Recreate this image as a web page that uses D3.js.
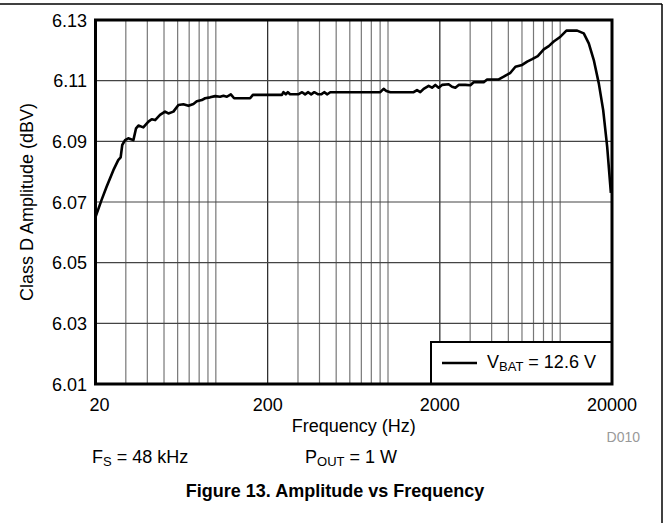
<!DOCTYPE html>
<html>
<head>
<meta charset="utf-8">
<script src="https://cdn.jsdelivr.net/npm/d3@7"></script>
<style>
  html, body { margin: 0; padding: 0; background: #fff; }
  svg { display: block; font-family: "Liberation Sans", Arial, sans-serif; }
</style>
</head>
<body>
<svg id="chart" width="669" height="523"></svg>
<script>
// ---- data ----
const freqs = [20, 21.7, 23.2, 25.4, 27.1, 28.0, 28.6, 29.7, 31.0, 33.2, 34.4, 35.5, 37.9, 40.6, 42.4, 44.4,
  47.4, 50.7, 53.0, 56.7, 60.6, 64.8, 69.3, 74.1, 77.5, 82.9, 86.6, 92.6, 99.1, 105.9, 110.7, 115.9,
  122.2, 127.7, 158.2, 164.1, 206.8, 242, 247, 255, 262, 270, 301, 317, 330, 344, 358, 373, 393, 409,
  426, 444, 462, 902, 943, 978, 1031, 1409, 1474, 1540, 1611, 1722, 1802, 1883, 1968, 2060, 2250,
  2355, 2461, 2573, 2814, 3008, 3144, 3596, 3763, 4396, 4700, 5141, 5497, 6013, 6430, 6874, 7409,
  8028, 8584, 9176, 10036, 10873, 12555, 13711, 14661, 15676, 16762, 17776, 18755, 19700];
const amplitude = [6.065, 6.0707, 6.075, 6.0805, 6.0838, 6.0847, 6.0888, 6.0904, 6.091, 6.0904, 6.0943,
  6.0952, 6.0946, 6.0965, 6.0973, 6.097, 6.0987, 6.0998, 6.0992, 6.0998, 6.102, 6.1022, 6.1017, 6.1023,
  6.1032, 6.1036, 6.1042, 6.1045, 6.1049, 6.1047, 6.105, 6.1047, 6.1055, 6.1042, 6.1042, 6.1053, 6.1053,
  6.1053, 6.1062, 6.1055, 6.1062, 6.1055, 6.1055, 6.1062, 6.1055, 6.1062, 6.1055, 6.1062, 6.1055, 6.1055,
  6.1062, 6.1055, 6.1062, 6.1062, 6.1073, 6.1066, 6.1062, 6.1062, 6.1069, 6.1062, 6.1073, 6.1083, 6.1077,
  6.1086, 6.1077, 6.1086, 6.1088, 6.108, 6.1077, 6.1086, 6.1086, 6.1085, 6.1095, 6.1095, 6.1104, 6.1104,
  6.1113, 6.1126, 6.1146, 6.1152, 6.1163, 6.1171, 6.1181, 6.1203, 6.1214, 6.1229, 6.1245, 6.1265, 6.1265,
  6.1256, 6.1223, 6.1168, 6.1091, 6.1003, 6.0882, 6.073];
const yTicks = [6.01, 6.03, 6.05, 6.07, 6.09, 6.11, 6.13];
const xTickLabels = [20, 200, 2000, 20000];
const xGridFreqs = [30, 40, 50, 60, 70, 80, 90, 100, 200, 300, 400, 500, 600, 700, 800, 900,
  1000, 2000, 3000, 4000, 5000, 6000, 7000, 8000, 9000, 10000];
const xMajor = [200, 2000];
const seriesLabel = {main: "V", sub: "BAT", rest: " = 12.6 V"};
const xTitle = "Frequency (Hz)";
const yTitle = "Class D Amplitude (dBV)";
const caption = "Figure 13. Amplitude vs Frequency";

// ---- layout ----
const svg = d3.select("#chart");
const L = 95.5, R = 612, T = 20, B = 384;
const x = d3.scaleLog().domain([20, 20000]).range([L, R]);
const y = d3.scaleLinear().domain([6.01, 6.13]).range([B, T]);

// outer figure border (top and right)
svg.append("line").attr("x1", 0).attr("x2", 662).attr("y1", 4).attr("y2", 4)
  .attr("stroke", "#000").attr("stroke-width", 1.5);
svg.append("line").attr("x1", 662).attr("x2", 662).attr("y1", 4).attr("y2", 523)
  .attr("stroke", "#000").attr("stroke-width", 1.5);

// grid
const g = svg.append("g");
g.selectAll("line.vg").data(xGridFreqs).join("line")
  .attr("x1", d => x(d)).attr("x2", d => x(d)).attr("y1", T).attr("y2", B)
  .attr("stroke", d => xMajor.includes(d) ? "#222" : "#777").attr("stroke-width", 1.2);
g.selectAll("line.hg").data(yTicks.slice(1, -1)).join("line")
  .attr("x1", L).attr("x2", R).attr("y1", d => y(d)).attr("y2", d => y(d))
  .attr("stroke", "#444").attr("stroke-width", 1.2);

// series line
const line = d3.line().x((d, i) => x(freqs[i])).y(d => y(d));
svg.append("path").attr("d", line(amplitude)).attr("fill", "none")
  .attr("stroke", "#000").attr("stroke-width", 2.6).attr("stroke-linejoin", "round");

// legend
const lg = svg.append("g");
lg.append("rect").attr("x", 431).attr("y", 342).attr("width", R - 431).attr("height", B - 342)
  .attr("fill", "#fff").attr("stroke", "#000").attr("stroke-width", 2);
lg.append("line").attr("x1", 442).attr("x2", 477).attr("y1", 363).attr("y2", 363)
  .attr("stroke", "#000").attr("stroke-width", 2.6);
const lt = lg.append("text").attr("x", 487).attr("y", 368).attr("font-size", 18).attr("fill", "#000");
lt.append("tspan").text(seriesLabel.main);
lt.append("tspan").attr("font-size", 13).attr("dy", 3).text(seriesLabel.sub);
lt.append("tspan").attr("dy", -3).text(seriesLabel.rest);

// plot frame
svg.append("rect").attr("x", L).attr("y", T).attr("width", R - L).attr("height", B - T)
  .attr("fill", "none").attr("stroke", "#000").attr("stroke-width", 3);

// y tick labels
svg.selectAll("text.yt").data(yTicks).join("text")
  .attr("x", 87).attr("y", d => y(d) + 6.5).attr("text-anchor", "end")
  .attr("font-size", 18).attr("fill", "#000").text(d => d.toFixed(2));

// x tick labels
svg.selectAll("text.xt").data(xTickLabels).join("text")
  .attr("x", (d, i) => x(d) + (i === 0 ? 4 : 0)).attr("y", 411).attr("text-anchor", "middle")
  .attr("font-size", 18).attr("fill", "#000").text(d => d);

// axis titles
svg.append("text").attr("x", (L + R) / 2).attr("y", 432).attr("text-anchor", "middle")
  .attr("font-size", 18).attr("fill", "#000").text(xTitle);
svg.append("text").attr("transform", `translate(33,${(T + B) / 2}) rotate(-90)`)
  .attr("text-anchor", "middle").attr("font-size", 18).attr("fill", "#000").text(yTitle);

// figure id
svg.append("text").attr("x", 640).attr("y", 442).attr("text-anchor", "end")
  .attr("font-size", 14).attr("fill", "#999").text("D010");

// conditions
const c1 = svg.append("text").attr("x", 92).attr("y", 463).attr("font-size", 18).attr("fill", "#000");
c1.append("tspan").text("F");
c1.append("tspan").attr("font-size", 13).attr("dy", 3).text("S");
c1.append("tspan").attr("dy", -3).text(" = 48 kHz");
const c2 = svg.append("text").attr("x", 305).attr("y", 463).attr("font-size", 18).attr("fill", "#000");
c2.append("tspan").text("P");
c2.append("tspan").attr("font-size", 13).attr("dy", 3).text("OUT");
c2.append("tspan").attr("dy", -3).text(" = 1 W");

// caption
svg.append("text").attr("x", 335).attr("y", 497).attr("text-anchor", "middle")
  .attr("font-size", 18).attr("font-weight", "bold").attr("fill", "#000").text(caption);
</script>
</body>
</html>
